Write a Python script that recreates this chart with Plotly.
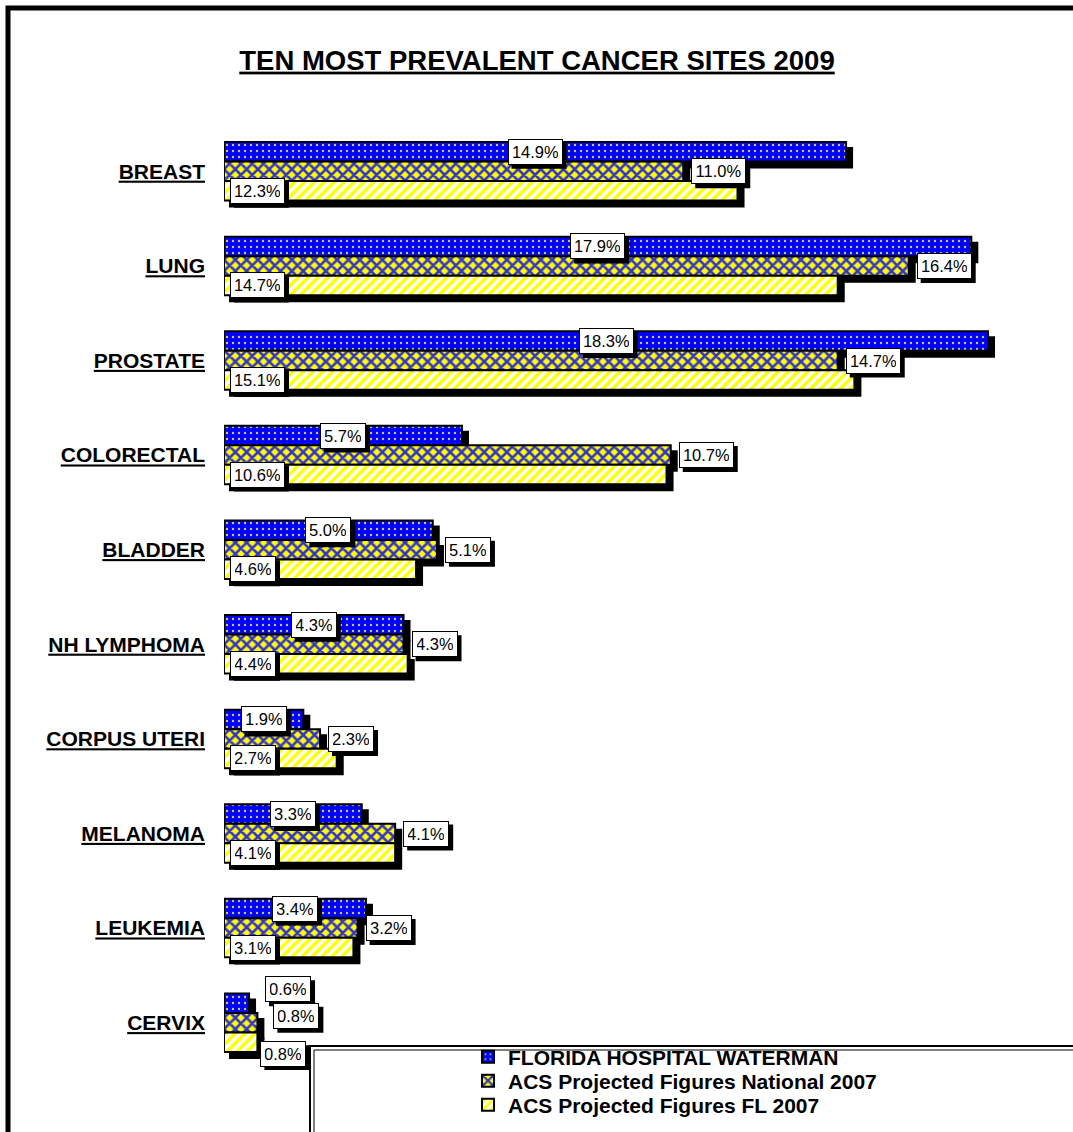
import plotly.graph_objects as go

# ---------------- data ----------------
categories = ["BREAST", "LUNG", "PROSTATE", "COLORECTAL", "BLADDER",
              "NH LYMPHOMA", "CORPUS UTERI", "MELANOMA", "LEUKEMIA", "CERVIX"]
fhw_values = [14.9, 17.9, 18.3, 5.7, 5.0, 4.3, 1.9, 3.3, 3.4, 0.6]
national_values = [11.0, 16.4, 14.7, 10.7, 5.1, 4.3, 2.3, 4.1, 3.2, 0.8]
florida_values = [12.3, 14.7, 15.1, 10.6, 4.6, 4.4, 2.7, 4.1, 3.1, 0.8]
series_names = ["FLORIDA HOSPITAL WATERMAN",
                "ACS Projected Figures National 2007",
                "ACS Projected Figures FL 2007"]
title_text = "TEN MOST PREVALENT CANCER SITES 2009"

# ---------------- layout geometry ----------------
W, H = 1073, 1132
L, R, T, B = 224, 14, 124, 62
PW, PH = W - L - R, H - T - B
XMAX = 20.0
FONT = "Arial, Liberation Sans, Helvetica, sans-serif"


def px_x(px):
    return (px - L) / PW


def px_y(py):
    return 1 - (py - T) / PH


ypos = list(range(len(categories)))
band_px = PH / len(categories)
bar_h = 0.206
offsets = [-0.309, -0.103, 0.103]
sdx = 6 * XMAX / PW
sdy = 6 / band_px

series_values = [fhw_values, national_values, florida_values]
styles = [
    dict(bg="#0000FF", fg="#C8C860", shape=".", size=6, solidity=0.12),
    dict(bg="#FFFF00", fg="#3535C8", shape="x", size=8, solidity=0.55),
    dict(bg="#FFFFFF", fg="#FFFF00", shape="/", size=7, solidity=0.5),
]
legend_ids = ["legend", "legend2", "legend3"]

fig = go.Figure()

# shadows
for s, vals in enumerate(series_values):
    fig.add_trace(go.Bar(
        y=ypos, x=vals, base=sdx, orientation="h",
        width=bar_h, offset=offsets[s] + sdy,
        marker=dict(color="black", line=dict(color="black", width=2)),
        showlegend=False, hoverinfo="skip"))

# bars
for s, vals in enumerate(series_values):
    st = styles[s]
    fig.add_trace(go.Bar(
        name=series_names[s], y=ypos, x=vals, orientation="h",
        width=bar_h, offset=offsets[s], legend=legend_ids[s],
        marker=dict(color=st["bg"],
                    pattern=dict(shape=st["shape"], fgcolor=st["fg"], bgcolor=st["bg"],
                                 size=st["size"], solidity=st["solidity"], fillmode="replace"),
                    line=dict(color="black", width=2)),
        hoverinfo="skip"))

# ---------------- value labels ----------------
special = {  # (series, category) -> (xshift, yshift), anchored at bar end
    (0, 9): (16, 14),
    (1, 9): (16, 7),
    (2, 9): (3, -12),
}
annotations = []
shapes = []
PAD, BW, TH = 4, 1, 16


def add_label(x, y, text, xanchor, xshift, yshift):
    tw = 45 if len(text) >= 5 else 36
    bw = tw + 2 * PAD + 2 * BW
    bh = TH + 2 * PAD + 2 * BW
    if xanchor == "center":
        bx0, bx1 = xshift - bw / 2, xshift + bw / 2
    else:
        bx0, bx1 = xshift, xshift + bw
    by0, by1 = yshift - bh / 2, yshift + bh / 2
    # drop shadow
    shapes.append(dict(type="rect", xref="x", yref="y", xsizemode="pixel", ysizemode="pixel",
                       xanchor=x, yanchor=y, x0=bx0 + 4, x1=bx1 + 4, y0=by0 - 4, y1=by1 - 4,
                       fillcolor="black", line=dict(width=0), layer="above"))
    annotations.append(dict(x=x, y=y, xref="x", yref="y", text=text, showarrow=False,
                            xanchor=xanchor, yanchor="middle", borderpad=PAD, borderwidth=BW,
                            width=tw, height=TH, align="center",
                            bgcolor="white", bordercolor="black",
                            font=dict(family=FONT, size=16.5, color="black"),
                            xshift=xshift, yshift=yshift))


for i in ypos:
    for s, vals in enumerate(series_values):
        v = vals[i]
        txt = f"{v:.1f}%"
        yc = i + offsets[s] + bar_h / 2
        if (s, i) in special:
            xs, ys = special[(s, i)]
            add_label(v, yc, txt, "left", xs, ys)
        elif s == 0:
            add_label(v / 2, yc, txt, "center", 0, 0)
        elif s == 1:
            add_label(v, yc, txt, "left", 8, 0)
        else:
            add_label(0, yc, txt, "left", 6, 0)

# ---------------- decorations ----------------
shapes += [
    # outer frame
    dict(type="rect", xref="paper", yref="paper",
         x0=px_x(8), x1=px_x(1095), y0=px_y(1150), y1=px_y(8),
         line=dict(color="black", width=5), fillcolor="rgba(0,0,0,0)", layer="above"),
    # legend box (double border)
    dict(type="rect", xref="paper", yref="paper",
         x0=px_x(310), x1=px_x(1100), y0=px_y(1150), y1=px_y(1046),
         line=dict(color="black", width=2), fillcolor="white", layer="above"),
    dict(type="rect", xref="paper", yref="paper",
         x0=px_x(314), x1=px_x(1100), y0=px_y(1150), y1=px_y(1050),
         line=dict(color="black", width=1), fillcolor="rgba(0,0,0,0)", layer="above"),
]

legend_style = dict(xanchor="left", yanchor="middle", bgcolor="rgba(0,0,0,0)",
                    borderwidth=0, itemwidth=30,
                    font=dict(family=FONT, size=21, color="black", weight="bold"))
legend_rows = [1057, 1081, 1105]

fig.update_layout(
    width=W, height=H,
    margin=dict(l=L, r=R, t=T, b=B, autoexpand=False),
    paper_bgcolor="white", plot_bgcolor="white",
    barmode="overlay",
    title=dict(text=title_text, x=537 / W, xref="container", xanchor="center",
               y=1 - 60 / H, yref="container", yanchor="middle",
               font=dict(family=FONT, size=27.5, color="black", weight="bold",
                         lineposition="under")),
    xaxis=dict(range=[0, XMAX], visible=False, fixedrange=True),
    yaxis=dict(range=[len(categories) - 0.5, -0.5], tickmode="array",
               tickvals=ypos, ticktext=categories, showgrid=False, zeroline=False,
               showline=False, ticks="", ticklabelstandoff=18, fixedrange=True,
               tickfont=dict(family=FONT, size=21, color="black", weight="bold",
                             lineposition="under")),
    legend=dict(x=px_x(468), y=px_y(legend_rows[0]), **legend_style),
    legend2=dict(x=px_x(468), y=px_y(legend_rows[1]), **legend_style),
    legend3=dict(x=px_x(468), y=px_y(legend_rows[2]), **legend_style),
    shapes=shapes,
    annotations=annotations,
    showlegend=True,
)

fig.write_html("out.html", config={"displayModeBar": False},
               post_script="document.body.style.margin='0';")
